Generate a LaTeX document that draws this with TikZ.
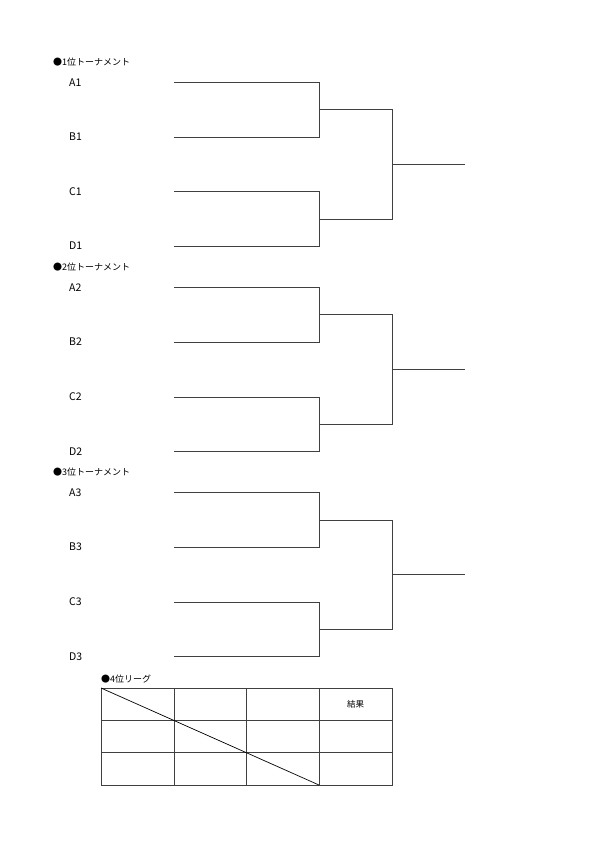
\documentclass[tikz,border=0pt]{standalone}
\usepackage{fontspec}
\setmainfont{Noto Sans CJK JP}
\tikzset{
  head/.style={anchor=west,inner sep=0pt,font=\fontsize{9}{9}\selectfont},
  team/.style={anchor=west,inner sep=0pt,font=\fontsize{10.5}{10.5}\selectfont},
  bline/.style={line width=0.6pt,black!75},
}
\begin{document}
\begin{tikzpicture}[x=1pt,y=-1pt]
\useasboundingbox (0,0) rectangle (600,849);
% three tournaments
\foreach \s in {1,2,3} {
  \pgfmathsetmacro{\off}{(\s-1)*205.2}
  \node[head] (title\s) at (53,62+\off) {●{\s}位トーナメント};
  \foreach \tm/\y in {A/82.3,B/136.8,C/191.6,D/246.0} {
    \node[team] (lab\tm\s) at (69,\y+\off) {\tm\s};
    \coordinate (\tm\s) at (174,\y+\off);
  }
  \coordinate (semA\s) at (319,109.5+\off);
  \coordinate (semC\s) at (319,218.8+\off);
  \coordinate (fin\s) at (392,164.2+\off);
  \coordinate (win\s) at (465,164.2+\off);
  \draw[bline] (A\s) -- ++(145,0) |- (B\s);
  \draw[bline] (C\s) -- ++(145,0) |- (D\s);
  \draw[bline] (semA\s) -- ++(73,0) |- (semC\s);
  \draw[bline] (fin\s) -- (win\s);
}
% league
\node[head] (title4) at (101,679) {●4位リーグ};
\coordinate (lt) at (101,688);
\coordinate (rb) at (392,785);
\draw[bline] (lt) rectangle (rb);
\foreach \x in {174,246,319} \draw[bline] (\x,688) -- (\x,785);
\foreach \y in {720,752} \draw[bline] (101,\y) -- (392,\y);
\coordinate (dg) at (319,785);
\draw[line width=0.7pt] (lt) -- (dg);
\node[inner sep=0pt,font=\fontsize{8.5}{8.5}\selectfont] (res) at (355.5,704) {結果};
\end{tikzpicture}
\end{document}
